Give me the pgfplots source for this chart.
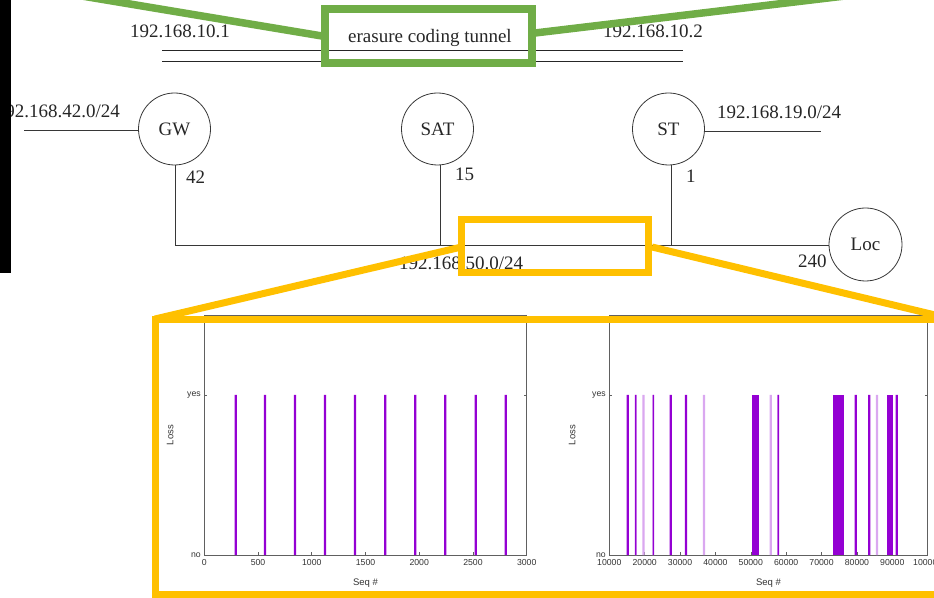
\documentclass[border=0pt]{standalone}
\usepackage{fontspec}
\setmainfont{Liberation Serif}
\newfontfamily\chartfont{Liberation Sans}
\usepackage{pgfplots}
\pgfplotsset{compat=1.18}
\definecolor{ogreen}{RGB}{112,173,71}
\definecolor{ogold}{RGB}{255,192,0}
\definecolor{lossD}{RGB}{148,0,211}
\definecolor{lossL}{RGB}{218,168,240}
\definecolor{diag}{RGB}{55,55,55}
\pgfplotsset{lossaxis/.style={
  scale only axis, anchor=south west, height=240pt,
  ymin=0, ymax=1.5, ytick={0,1}, yticklabels={no,yes},
  axis line style={draw=gray!75!black, line width=0.6pt},
  tick style={gray!75!black, line width=0.6pt},
  major tick length=3pt, tick align=inside,
  ticklabel style={font=\chartfont\fontsize{8.7}{10}\selectfont, text=black!80},
  scaled x ticks=false,
  xticklabel style={yshift=-1pt},
  xlabel={Seq \#}, ylabel={Loss},
  every axis x label/.style={at={(axis description cs:0.5,-0.117)}, anchor=center,
    font=\chartfont\fontsize{9.5}{11}\selectfont, text=black!80},
}}
\begin{document}
\begin{tikzpicture}
\useasboundingbox (0pt,0pt) rectangle (934pt,597pt);
\clip (0pt,0pt) rectangle (934pt,597pt);
\begin{scope}[x=1pt,y=-1pt,yshift=597pt]
  % tunnel double line
  \draw[black!85, line width=0.9pt] (162,50) -- (683,50);
  \draw[black!85, line width=0.9pt] (162,61.3) -- (683,61.3);
  \begin{scope}[every node/.style={inner sep=0, font=\fontsize{19}{22}\selectfont, text=black!85}]
    \node[anchor=base west] at (130,38) {192.168.10.1};
    \node[anchor=base west] at (348,43) {erasure coding tunnel};
    \node[anchor=base west] at (603,38) {192.168.10.2};
    \node[anchor=base east] at (120,118) {192.168.42.0/24};
    \node[anchor=base west] at (717,119) {192.168.19.0/24};
    \node[anchor=base west] at (186,184) {42};
    \node[anchor=base west] at (455,181) {15};
    \node[anchor=base west] at (686,183) {1};
    \node[anchor=base west] at (798,268) {240};
    \node[anchor=base west] at (399,270) {192.168.50.0/24};
    \node at (174.5,129) {GW};
    \node at (437.5,129) {SAT};
    \node at (668.5,129) {ST};
    \node at (865.5,244.5) {Loc};
  \end{scope}
  % nodes
  \draw[diag, line width=0.8pt] (174.5,129) circle[radius=36];
  \draw[diag, line width=0.8pt] (437.5,129) circle[radius=36];
  \draw[diag, line width=0.8pt] (668.5,129) circle[radius=36];
  \draw[diag, line width=0.8pt] (865.5,244.5) circle[radius=36.5];
  % links
  \draw[diag, line width=0.9pt] (24,130) -- (138.5,130);
  \draw[diag, line width=0.9pt] (704.5,131) -- (821,131);
  \draw[diag, line width=0.9pt] (175,165) -- (175,245.5) -- (829,245.5);
  \draw[diag, line width=0.9pt] (440.5,165) -- (440.5,245.5);
  \draw[diag, line width=0.9pt] (671,165) -- (671,245.5);
  % black strip
  \fill[black] (0,0) rectangle (11,273);
\end{scope}

% left chart
\begin{axis}[lossaxis, at={(204.3pt,42pt)}, width=322.4pt,
  xmin=0, xmax=3000, xtick={0,500,1000,1500,2000,2500,3000},
  xticklabels={0,500,1000,1500,2000,2500,3000},
  every axis y label/.style={at={(axis description cs:-0.106,0.5)}, rotate=90, anchor=center,
    font=\chartfont\fontsize{9.5}{11}\selectfont, text=black!80}]
  \addplot[ybar, bar width=21, bar shift=0pt, fill=lossD, draw=none] coordinates {
    (292,1) (565,1) (844,1) (1123,1) (1402,1) (1684,1) (1963,1) (2242,1) (2525,1) (2804,1)};
\end{axis}

% right chart
\begin{axis}[lossaxis, at={(609.3pt,42pt)}, width=318.4pt,
  xmin=10000, xmax=100000,
  xtick={10000,20000,30000,40000,50000,60000,70000,80000,90000,100000},
  xticklabels={10000,20000,30000,40000,50000,60000,70000,80000,90000,100000},
  every axis y label/.style={at={(axis description cs:-0.117,0.5)}, rotate=90, anchor=center,
    font=\chartfont\fontsize{9.5}{11}\selectfont, text=black!80}]
  % lighter losses
  \addplot[ybar, bar width=660, bar shift=0pt, fill=lossL, draw=none] coordinates {
    (17460,1) (19670,1) (22440,1) (36770,1) (55650,1) (57770,1) (85660,1)};
  % darker single losses
  \addplot[ybar, bar width=660, bar shift=0pt, fill=lossD, draw=none] coordinates {
    (15230,1) (27380,1) (31680,1) (79640,1) (83490,1) (91230,1)};
  \addplot[ybar, bar width=320, bar shift=0pt, fill=lossD, draw=none] coordinates {
    (17460,1) (22440,1) (57770,1)};
  % loss bursts
  \addplot[fill=lossD, draw=none] coordinates {(50470,0) (50470,1) (52310,1) (52310,0)} --cycle;
  \addplot[fill=lossD, draw=none] coordinates {(73310,0) (73310,1) (76340,1) (76340,0)} --cycle;
  \addplot[fill=lossD, draw=none] coordinates {(88580,0) (88580,1) (90270,1) (90270,0)} --cycle;
\end{axis}

\begin{scope}[x=1pt,y=-1pt,yshift=597pt]
  % green callout
  \draw[ogreen, line width=8pt] (324.5,9) rectangle (531.5,63);
  \draw[ogreen, line width=7.5pt] (322,36) -- (40,-11);
  \draw[ogreen, line width=7.5pt] (535,33) -- (870,-7);
  % yellow callout
  \draw[ogold, line width=7pt] (461.5,219.5) rectangle (648.5,273);
  \draw[ogold, line width=7pt] (155,320) rectangle (950,594.5);
  \draw[ogold, line width=7pt] (461.5,247) -- (155,319);
  \draw[ogold, line width=7pt] (652,247) -- (960,321);
\end{scope}
\end{tikzpicture}
\end{document}
